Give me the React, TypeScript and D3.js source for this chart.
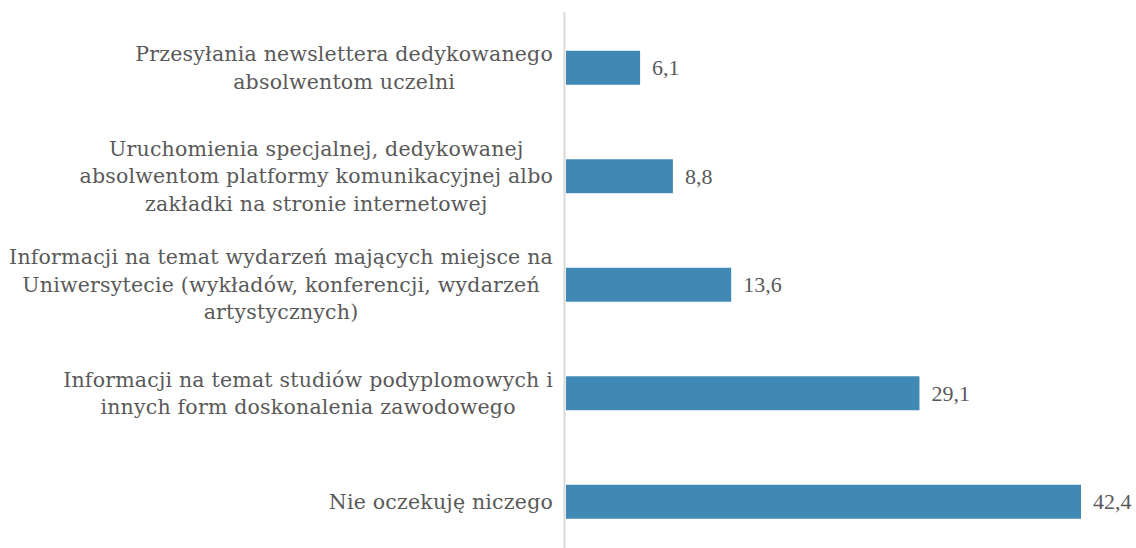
import React, { useMemo } from "react";
import * as d3 from "d3";

const categories: string[][] = [
  ["Przesyłania newslettera dedykowanego", "absolwentom uczelni"],
  ["Uruchomienia specjalnej, dedykowanej", "absolwentom platformy komunikacyjnej albo", "zakładki na stronie internetowej"],
  ["Informacji na temat wydarzeń mających miejsce na", "Uniwersytecie (wykładów, konferencji, wydarzeń", "artystycznych)"],
  ["Informacji na temat studiów podyplomowych i", "innych form doskonalenia zawodowego"],
  ["Nie oczekuję niczego"],
];
const values: number[] = [6.1, 8.8, 13.6, 29.1, 42.4];
const valueLabels: string[] = ["6,1", "8,8", "13,6", "29,1", "42,4"];

const W = 1136;
const H = 548;
const FONT = "DejaVu Serif";
const FS = 20.5;
const LS = 0.2;
const LINE = 27.5;
const NUM_FONT = "Liberation Serif";
const NUM_FS = 22;
const TEXT_COLOR = "#595959";
const BAR_COLOR = "#4189b5";

export default function App() {
  const x = d3.scaleLinear().domain([0, 42.4]).range([566, 1081]);
  const y = d3
    .scaleBand<number>()
    .domain(d3.range(values.length))
    .range([13.5, 556])
    .paddingInner(0.687)
    .paddingOuter(0.3435);

  const widths = useMemo(() => {
    const c = document.createElement("canvas").getContext("2d");
    if (!c) return categories.map(() => 400);
    c.font = `${FS}px "${FONT}"`;
    return categories.map(
      (lines) => d3.max(lines, (l) => c.measureText(l).width + l.length * LS) || 0
    );
  }, []);

  const labelRight = 553;

  return (
    <svg
      width={W}
      height={H}
      style={{ position: "fixed", left: 0, top: 0, background: "#fff" }}
      fontFamily={`'${FONT}', serif`}
      fontSize={FS}
    >
      <rect x={0} y={0} width={W} height={H} fill="#fff" />
      {values.map((v, i) => {
        const y0 = y(i) as number;
        const bh = y.bandwidth();
        const cy = y0 + bh / 2;
        const lines = categories[i];
        const cx = labelRight - widths[i] / 2;
        const startY = cy - ((lines.length - 1) * LINE) / 2;
        return (
          <g key={i}>
            <rect x={x(0)} y={y0} width={x(v) - x(0)} height={bh} fill={BAR_COLOR} />
            <text
              x={x(v) + 12}
              y={cy}
              dy="0.35em"
              fill={TEXT_COLOR}
              fontFamily={`'${NUM_FONT}', serif`}
              fontSize={NUM_FS}
            >
              {valueLabels[i]}
            </text>
            <text textAnchor="middle" fill={TEXT_COLOR} letterSpacing={LS}>
              {lines.map((l, j) => (
                <tspan key={j} x={cx} y={startY + j * LINE} dy="0.35em">
                  {l}
                </tspan>
              ))}
            </text>
          </g>
        );
      })}
      <line x1={564.5} x2={564.5} y1={12} y2={H} stroke="#d9d9d9" strokeWidth={2} />
    </svg>
  );
}
